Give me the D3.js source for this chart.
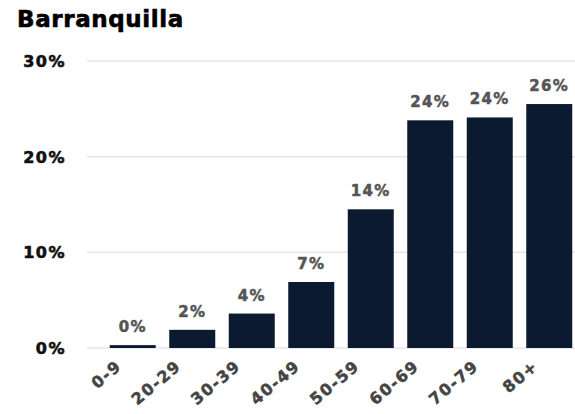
<!DOCTYPE html>
<html><head><meta charset="utf-8">
<script src="https://cdn.jsdelivr.net/npm/d3@7"></script>
<style>body{margin:0;background:#fff}svg{display:block}</style>
</head><body>
<script>
const title = "Barranquilla";
const categories = ["0-9","20-29","30-39","40-49","50-59","60-69","70-79","80+"];
const values = [0.3,1.9,3.6,6.9,14.5,23.8,24.1,25.5];
const valueLabels = ["0%","2%","4%","7%","14%","24%","24%","26%"];
const yTicks = [0,10,20,30];

const W=575,H=414;
const svg=d3.select("body").append("svg").attr("width",W).attr("height",H);
const font="'DejaVu Sans', sans-serif";

const x=d3.scaleBand().domain(categories).range([103,579]).paddingInner(0.227).paddingOuter(0.1135);
const y=d3.scaleLinear().domain([0,30]).range([348,61]);

svg.append("text").attr("x",17).attr("y",27).text(title)
  .attr("font-family",font).attr("font-weight","bold").attr("font-size",23).attr("letter-spacing",0.6)
  .attr("fill","#000").attr("stroke","#000").attr("stroke-width",0.6);

// grid
svg.append("g").selectAll("line").data(yTicks).join("line")
  .attr("x1",87).attr("x2",575).attr("y1",d=>y(d)).attr("y2",d=>y(d))
  .attr("stroke","#e6e6e6").attr("stroke-width",1.5);
svg.append("g").selectAll("text").data(yTicks).join("text")
  .attr("x",66).attr("y",d=>y(d)+6).attr("text-anchor","end")
  .attr("font-family",font).attr("font-weight","bold").attr("font-size",16).attr("letter-spacing",1.5)
  .attr("fill","#111").attr("stroke","#111").attr("stroke-width",0.6)
  .text(d=>d+"%");

svg.append("g").selectAll("rect").data(categories).join("rect")
  .attr("x",d=>x(d)).attr("width",x.bandwidth())
  .attr("y",(d,i)=>y(values[i])).attr("height",(d,i)=>y(0)-y(values[i]))
  .attr("fill","#0b1a30");

svg.append("g").selectAll("text").data(categories).join("text")
  .attr("x",d=>x(d)+x.bandwidth()/2).attr("y",(d,i)=>y(values[i])-13)
  .attr("text-anchor","middle").attr("font-family",font).attr("font-weight","bold")
  .attr("font-size",15).attr("letter-spacing",1.3)
  .attr("fill","#555").attr("stroke","#555").attr("stroke-width",0.5).text((d,i)=>valueLabels[i]);

svg.append("g").selectAll("text").data(categories).join("text")
  .attr("transform",d=>`translate(${x(d)+x.bandwidth()/2-10},368) rotate(-40)`)
  .attr("text-anchor","end").attr("font-family",font).attr("font-weight","bold")
  .attr("font-size",16).attr("letter-spacing",1.5)
  .attr("fill","#444").attr("stroke","#444").attr("stroke-width",0.5).text(d=>d);
</script>
</body></html>
